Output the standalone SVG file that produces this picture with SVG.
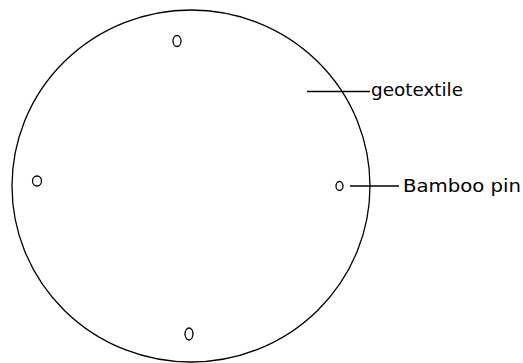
<svg xmlns="http://www.w3.org/2000/svg" width="523" height="363" viewBox="0 0 523 363">
<style>
.ln{stroke:#000;stroke-width:1.3;fill:none}
.pin{stroke:#000;stroke-width:1.3;fill:#fff}
.lbl{font-family:"DejaVu Sans",sans-serif;font-size:18px;fill:#000}
</style>
<rect width="523" height="363" fill="#fff"/>
<g id="geotextile">
<ellipse class="ln" cx="191" cy="186" rx="179" ry="176"/>
</g>
<g id="pin-top"><ellipse class="pin" cx="177" cy="41" rx="4" ry="5.5"/></g>
<g id="pin-left"><ellipse class="pin" cx="37" cy="181" rx="4.5" ry="5"/></g>
<g id="pin-right"><ellipse class="pin" cx="339.5" cy="186" rx="3.5" ry="4.5"/></g>
<g id="pin-bottom"><ellipse class="pin" cx="189" cy="334" rx="4" ry="6"/></g>
<g id="connectors">
<line class="ln" x1="307" y1="91.5" x2="370" y2="91.5"/>
<line class="ln" x1="350" y1="186" x2="399" y2="186"/>
</g>
<g id="labels">
<text class="lbl" x="371" y="96" textLength="92" lengthAdjust="spacingAndGlyphs">geotextile</text>
<text class="lbl" x="403" y="192" textLength="118" lengthAdjust="spacingAndGlyphs">Bamboo pin</text>
</g>
</svg>
